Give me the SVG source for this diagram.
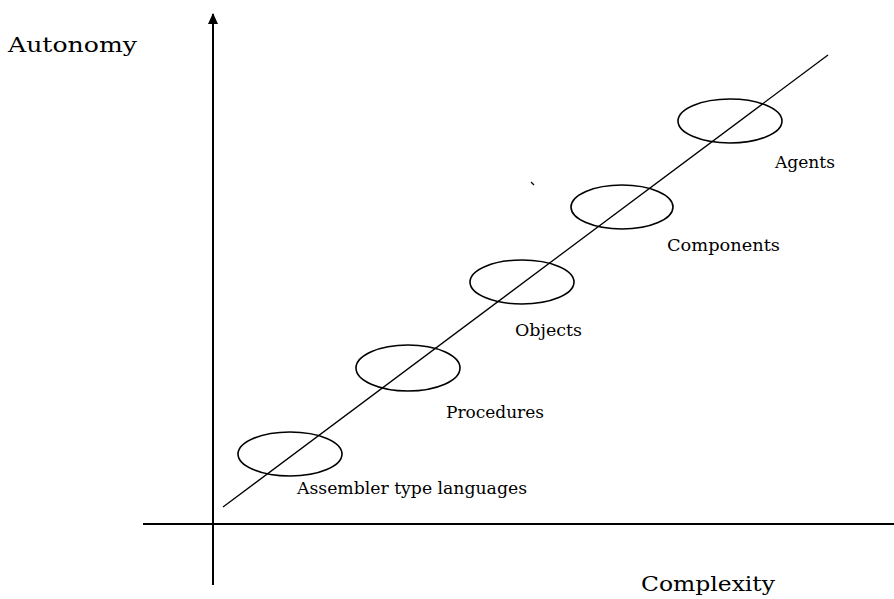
<svg xmlns="http://www.w3.org/2000/svg" width="894" height="599" viewBox="0 0 894 599">
<defs>
<style>
.ax{stroke:#000;stroke-width:2;fill:none}
.ln{stroke:#000;stroke-width:1.3;fill:none}
.el{stroke:#000;stroke-width:1.6;fill:none}
text{font-family:"DejaVu Serif","Liberation Serif",serif;fill:#000}
.big{font-size:21px}
.lbl{font-size:16px}
</style>
</defs>
<rect width="894" height="599" fill="#fff"/>
<g id="connectors">
<line class="ax" x1="213" y1="585" x2="213" y2="14"/>
<path d="M208,24 L213,13 L218,24 Z" fill="#000"/>
<line class="ax" x1="143" y1="524" x2="894" y2="524"/>
<line class="ln" x1="223" y1="507" x2="828" y2="55"/>
<line class="ln" x1="531" y1="182" x2="534" y2="185"/>
</g>
<g id="axis-y-label"><text class="big" x="8" y="52" textLength="129" lengthAdjust="spacingAndGlyphs">Autonomy</text></g>
<g id="axis-x-label"><text class="big" x="641" y="591" textLength="134" lengthAdjust="spacingAndGlyphs">Complexity</text></g>
<g id="node-assembler"><ellipse class="el" cx="290" cy="454" rx="52" ry="22"/><text class="lbl" x="297" y="494" textLength="230" lengthAdjust="spacingAndGlyphs">Assembler type languages</text></g>
<g id="node-procedures"><ellipse class="el" cx="408" cy="368" rx="52" ry="23"/><text class="lbl" x="446" y="418" textLength="98" lengthAdjust="spacingAndGlyphs">Procedures</text></g>
<g id="node-objects"><ellipse class="el" cx="522" cy="282" rx="52" ry="22"/><text class="lbl" x="515" y="336" textLength="67" lengthAdjust="spacingAndGlyphs">Objects</text></g>
<g id="node-components"><ellipse class="el" cx="622" cy="207" rx="51" ry="22"/><text class="lbl" x="667" y="251" textLength="113" lengthAdjust="spacingAndGlyphs">Components</text></g>
<g id="node-agents"><ellipse class="el" cx="730" cy="121" rx="52" ry="22"/><text class="lbl" x="775" y="168" textLength="60" lengthAdjust="spacingAndGlyphs">Agents</text></g>
</svg>
